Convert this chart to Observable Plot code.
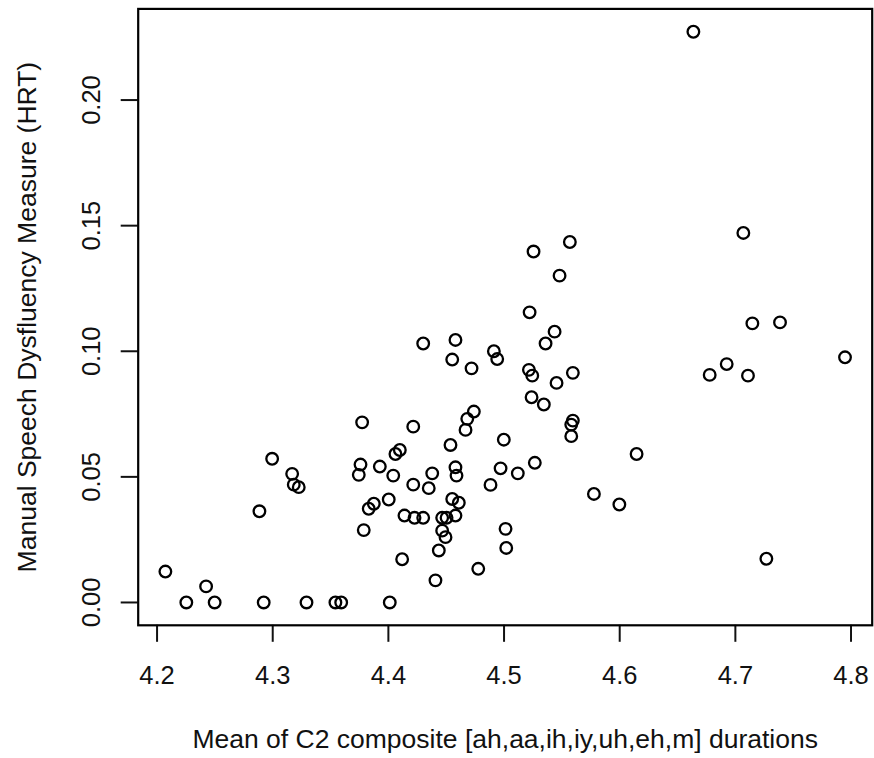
<!DOCTYPE html>
<html>
<head>
<meta charset="utf-8">
<script src="https://cdn.jsdelivr.net/npm/d3@7"></script>
<script src="https://cdn.jsdelivr.net/npm/@observablehq/plot@0.6"></script>
<style>
  html, body { margin: 0; padding: 0; background: white; }
</style>
</head>
<body>
<div id="chart"></div>
<script>
// Mean of C2 composite durations (x)
const durations = [
  4.6637, 4.5569, 4.5255, 4.5480, 4.5221, 4.5437, 4.7069, 4.7147, 4.7386, 4.7948,
  4.6778, 4.6925, 4.7109, 4.7268, 4.4301, 4.4580, 4.4552, 4.4719, 4.4912, 4.4941,
  4.5359, 4.5215, 4.5244, 4.5454, 4.5595, 4.5238, 4.5344, 4.5595, 4.5581, 4.5581,
  4.4739, 4.4682, 4.4667, 4.4537, 4.4998, 4.6146, 4.4379, 4.4349, 4.4580, 4.4589,
  4.4970, 4.5119, 4.5266, 4.4883, 4.4552, 4.4609, 4.5777, 4.5997, 4.4301, 4.4465,
  4.4503, 4.4580, 4.4465, 4.4494, 4.4436, 4.5013, 4.5019, 4.4777, 4.4407, 4.3773,
  4.4215, 4.2995, 4.3168, 4.3182, 4.3225, 4.3759, 4.3744, 4.3926, 4.4042, 4.4061,
  4.4099, 4.4215, 4.4003, 4.3874, 4.3830, 4.2885, 4.4139, 4.4226, 4.3787, 4.4119,
  4.2072, 4.2424, 4.2253, 4.2498, 4.2922, 4.3292, 4.3542, 4.3592, 4.4012
];
// Manual Speech Dysfluency Measure (y)
const dysfluency = [
  0.2272, 0.1435, 0.1397, 0.1301, 0.1155, 0.1078, 0.1471, 0.1111, 0.1115, 0.0976,
  0.0906, 0.0949, 0.0903, 0.0174, 0.1031, 0.1045, 0.0967, 0.0932, 0.1000, 0.0969,
  0.1031, 0.0926, 0.0903, 0.0874, 0.0914, 0.0817, 0.0788, 0.0724, 0.0708, 0.0662,
  0.0760, 0.0731, 0.0687, 0.0627, 0.0648, 0.0591, 0.0514, 0.0455, 0.0538, 0.0505,
  0.0534, 0.0514, 0.0556, 0.0468, 0.0412, 0.0397, 0.0432, 0.0390, 0.0337, 0.0337,
  0.0337, 0.0346, 0.0286, 0.0260, 0.0207, 0.0293, 0.0217, 0.0134, 0.0088, 0.0717,
  0.0700, 0.0572, 0.0512, 0.0469, 0.0459, 0.0549, 0.0508, 0.0541, 0.0505, 0.0591,
  0.0607, 0.0469, 0.0410, 0.0393, 0.0373, 0.0363, 0.0346, 0.0337, 0.0288, 0.0172,
  0.0123, 0.0064, 0, 0, 0, 0, 0, 0, 0
];
const xTicks = [4.2, 4.3, 4.4, 4.5, 4.6, 4.7, 4.8];
const yTicks = [0.00, 0.05, 0.10, 0.15, 0.20];
const xTitle = "Mean of C2 composite [ah,aa,ih,iy,uh,eh,m] durations";
const yTitle = "Manual Speech Dysfluency Measure (HRT)";

const data = durations.map((d, i) => ({x: d, y: dysfluency[i]}));

// R-style 4% padding of axis ranges
function pad(ext) { const p = (ext[1] - ext[0]) * 0.04; return [ext[0] - p, ext[1] + p]; }
const xDomain = pad(d3.extent(durations));
const yDomain = pad(d3.extent(dysfluency));

const chart = Plot.plot({
  width: 874,
  height: 758,
  marginTop: 8.4,
  marginLeft: 137.7,
  marginRight: 2.3,
  marginBottom: 133.2,
  x: {domain: xDomain},
  y: {domain: yDomain},
  style: {fontFamily: "Liberation Sans, Arial, sans-serif", fontSize: "25px", color: "#111", background: "white"},
  marks: [
    Plot.axisX({ticks: xTicks, tickSize: 17, tickPadding: 24, strokeWidth: 2, tickFormat: d3.format(".1f"), label: null, fontSize: 25.5}),
    Plot.axisY({ticks: yTicks, tickSize: 17, tickPadding: 21, tickRotate: -90, strokeWidth: 2, tickFormat: d3.format(".2f"), label: null, fontSize: 25.5}),
    Plot.frame({stroke: "black", strokeWidth: 2.2}),
    Plot.dot(data, {x: "x", y: "y", r: 5.8, stroke: "black", strokeWidth: 2.3, fill: "none"}),
    Plot.text([xTitle], {text: d => d, frameAnchor: "bottom", dy: 103.5, lineAnchor: "top", textAnchor: "middle", fontSize: 26.5, fill: "#111"}),
    Plot.text([yTitle], {text: d => d, frameAnchor: "left", dx: -102.7, rotate: -90, lineAnchor: "bottom", textAnchor: "middle", fontSize: 26.5, fill: "#111"})
  ]
});
document.getElementById("chart").appendChild(chart);
</script>
</body>
</html>
